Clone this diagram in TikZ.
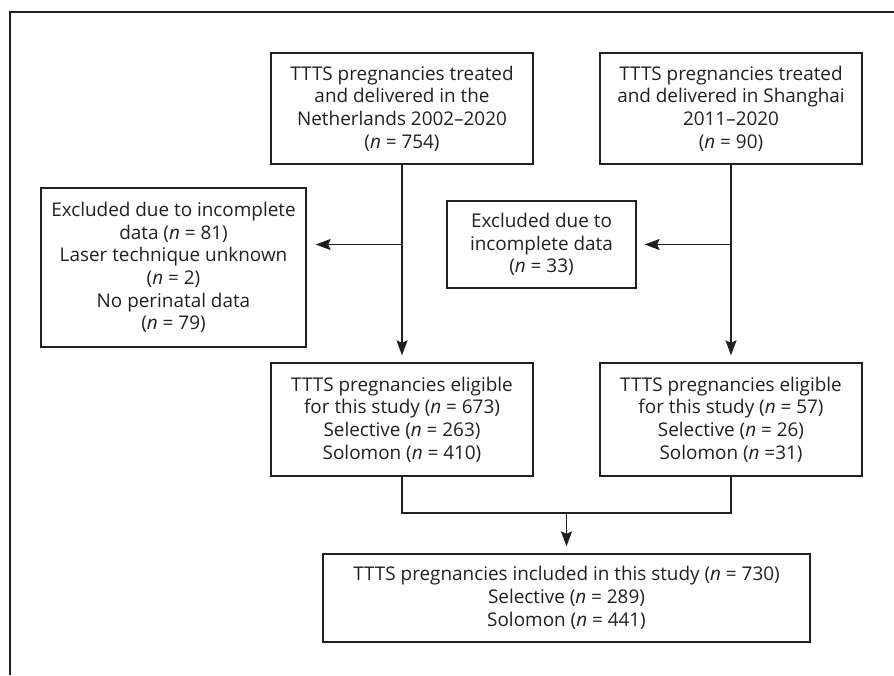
\documentclass[tikz,border=0pt]{standalone}
\usepackage{fontspec}
\setmainfont{Open Sans}
\usetikzlibrary{arrows.meta,calc}
\definecolor{ink}{HTML}{231F20}
\tikzset{
  box/.style={draw=ink, line width=1.3pt, align=center, inner sep=0pt, text=ink,
    font=\fontsize{18.9}{22.7}\selectfont},
  conn/.style={draw=ink, line width=1.3pt},
  arr/.style={conn, arrows={-Stealth[length=15pt,width=11pt,inset=2.5pt]}, shorten >=7pt}
}
\begin{document}
\begin{tikzpicture}[x=1pt,y=-1pt]
\useasboundingbox (0,0) rectangle (894,675);
\draw[conn] (894,12) -- (10,12) -- (10,675);

\node[box, minimum width=262pt, minimum height=111pt] (A) at (402,108.5)
  {TTTS pregnancies treated\\and delivered in the\\Netherlands 2002--2020\\(\textit{n} = 754)};
\node[box, minimum width=262pt, minimum height=111pt] (B) at (731,108.5)
  {TTTS pregnancies treated\\and delivered in Shanghai\\2011--2020\\(\textit{n} = 90)};
\node[box, minimum width=265pt, minimum height=159pt] (E1) at (173.5,267.5)
  {Excluded due to incomplete\\data (\textit{n} = 81)\\Laser technique unknown\\(\textit{n} = 2)\\No perinatal data\\(\textit{n} = 79)};
\node[box, minimum width=189pt, minimum height=87pt] (E2) at (541.5,244.5)
  {Excluded due to\\incomplete data\\(\textit{n} = 33)};
\node[box, minimum width=262pt, minimum height=113pt] (C) at (402,419.5)
  {TTTS pregnancies eligible\\for this study (\textit{n} = 673)\\Selective (\textit{n} = 263)\\Solomon (\textit{n} = 410)};
\node[box, minimum width=262pt, minimum height=113pt] (D) at (731,419.5)
  {TTTS pregnancies eligible\\for this study (\textit{n} = 57)\\Selective (\textit{n} = 26)\\Solomon (\textit{n} =31)};
\node[box, minimum width=487pt, minimum height=88pt] (F) at (566.5,598)
  {TTTS pregnancies included in this study (\textit{n} = 730)\\Selective (\textit{n} = 289)\\Solomon (\textit{n} = 441)};

\draw[arr] (A.south) -- (C.north);
\draw[arr] (B.south) -- (D.north);
\draw[arr, shorten >=9pt] (A.south |- E2.west) -- (E1.east |- E2.west);
\draw[arr, shorten >=8pt] (B.south |- E2.east) -- (E2.east);
\coordinate (m) at (566.5,513);
\draw[conn] (C.south) -- (C.south |- m) -- (D.south |- m) -- (D.south);
\draw[arr] (m) -- (F.north);
\end{tikzpicture}
\end{document}
